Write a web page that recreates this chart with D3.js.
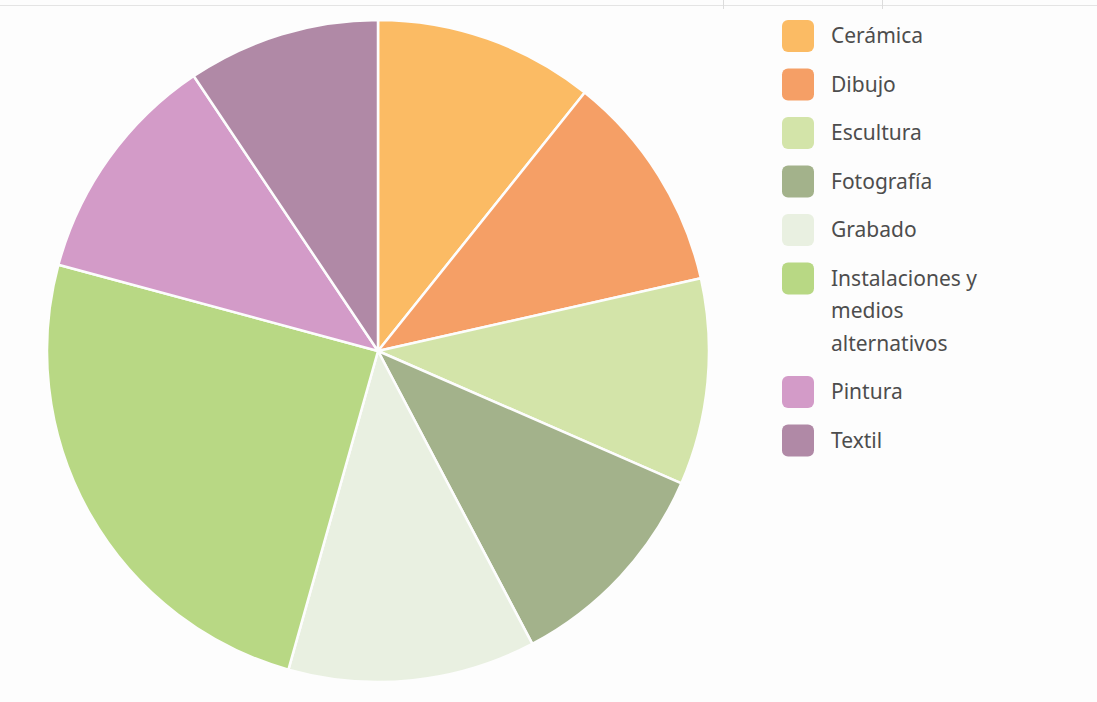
<!DOCTYPE html>
<html>
<head>
<meta charset="utf-8">
<script src="https://cdn.jsdelivr.net/npm/d3@7"></script>
<style>
  html, body { margin: 0; padding: 0; background: #fdfdfd; }
  svg { display: block; }
</style>
</head>
<body>
<svg id="chart" width="1097" height="702"></svg>
<script>
// Disciplinas artísticas
const categories = ["Cerámica", "Dibujo", "Escultura", "Fotografía", "Grabado",
                    "Instalaciones y medios alternativos", "Pintura", "Textil"];
const values = [16, 16, 15, 16, 18, 37, 17, 14];
const colors = ["#fbbb64", "#f59f66", "#d3e4a9", "#a3b28b", "#e9f0e1",
                "#b8d884", "#d39bc8", "#b089a6"];

const svg = d3.select("#chart");
const W = 1097, H = 702;

// thin frame lines at the top edge
svg.append("line").attr("x1", 0).attr("x2", W).attr("y1", 5.5).attr("y2", 5.5)
  .attr("stroke", "#e4e4e4").attr("stroke-width", 1);
[723.5, 882.5].forEach(x => {
  svg.append("line").attr("x1", x).attr("x2", x).attr("y1", 0).attr("y2", 9)
    .attr("stroke", "#dcdcdc").attr("stroke-width", 1);
});

const data = categories.map((c, i) => ({ name: c, value: values[i] }));

const color = d3.scaleOrdinal().domain(categories).range(colors);

const cx = 378, cy = 351, radius = 331;

const pie = d3.pie().value(d => d.value).sort(null);
const arc = d3.arc().innerRadius(0).outerRadius(radius);

const g = svg.append("g").attr("transform", `translate(${cx},${cy})`);
g.selectAll("path")
  .data(pie(data))
  .join("path")
  .attr("d", arc)
  .attr("fill", d => color(d.data.name))
  .attr("stroke", "#fdfdfd")
  .attr("stroke-width", 2.5)
  .attr("stroke-linejoin", "round");

// legend
const legend = svg.append("g").attr("transform", "translate(782,0)");
const maxTextWidth = 170, lineH = 32.5, itemGap = 48.5;
let y = 36;
data.forEach(d => {
  const item = legend.append("g").attr("transform", `translate(0,${y})`);
  item.append("rect")
    .attr("x", 0).attr("y", -16).attr("width", 32).attr("height", 32)
    .attr("rx", 6).attr("ry", 6)
    .attr("fill", color(d.name));
  const text = item.append("text")
    .attr("x", 49).attr("y", 0)
    .attr("font-family", "'Noto Sans', 'Open Sans', sans-serif")
    .attr("font-size", 21)
    .attr("fill", "#4d4d4d");
  // wrap words into lines that fit the legend column
  const words = d.name.split(" ");
  let lines = [], current = "";
  const probe = text.append("tspan");
  words.forEach(w => {
    const trial = current ? current + " " + w : w;
    probe.text(trial);
    if (probe.node().getComputedTextLength() > maxTextWidth && current) {
      lines.push(current);
      current = w;
    } else {
      current = trial;
    }
  });
  lines.push(current);
  probe.remove();
  lines.forEach((ln, i) => {
    text.append("tspan").attr("x", 49).attr("dy", i === 0 ? "0.35em" : lineH).text(ln);
  });
  y += itemGap + (lines.length - 1) * lineH;
});
</script>
</body>
</html>
